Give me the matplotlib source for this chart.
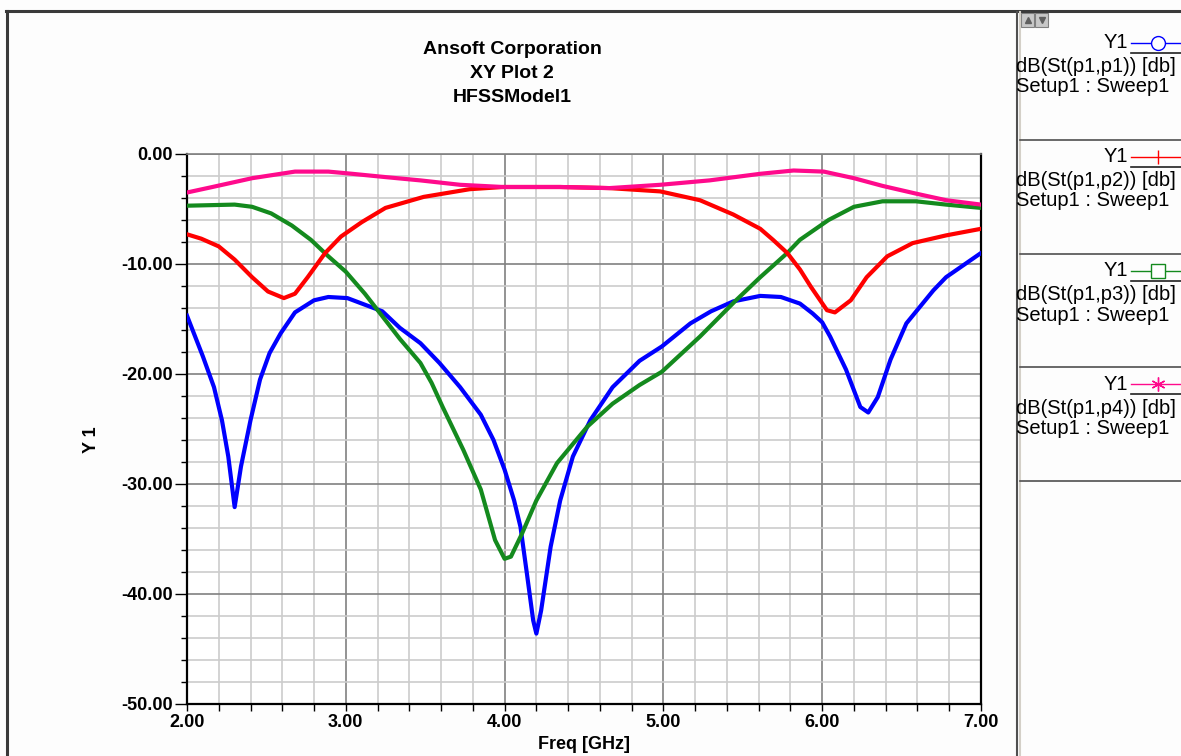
import numpy as np
import matplotlib
matplotlib.use("Agg")
import matplotlib.pyplot as plt
from matplotlib.lines import Line2D
from matplotlib.patches import Rectangle
from matplotlib.ticker import MultipleLocator, FormatStrFormatter

plt.rcParams['font.family'] = ['Liberation Sans', 'DejaVu Sans']

# S-parameter traces (freq in GHz, value in dB)
f_s11 = [2.00, 2.10, 2.17, 2.22, 2.26, 2.30, 2.34, 2.40, 2.46, 2.52, 2.59, 2.68, 2.80, 2.89,
         3.01, 3.12, 3.23, 3.34, 3.47, 3.59, 3.72, 3.85, 3.93, 4.00, 4.06, 4.10, 4.14, 4.18,
         4.20, 4.23, 4.29, 4.35, 4.43, 4.54, 4.68, 4.85, 4.99, 5.17, 5.30, 5.44, 5.61, 5.74,
         5.86, 5.94, 6.00, 6.05, 6.11, 6.15, 6.24, 6.29, 6.35, 6.43, 6.53, 6.70, 6.78, 6.85, 7.00]
s11 = [-14.7, -18.4, -21.2, -24.2, -27.5, -32.1, -28.4, -24.2, -20.5, -18.1, -16.3, -14.4, -13.3, -13.0,
       -13.1, -13.7, -14.3, -15.8, -17.2, -19.0, -21.2, -23.7, -26.0, -28.7, -31.5, -33.9, -38.1, -42.4,
       -43.6, -41.5, -35.7, -31.5, -27.5, -24.2, -21.2, -18.8, -17.5, -15.4, -14.3, -13.4, -12.9, -13.0,
       -13.6, -14.5, -15.3, -16.6, -18.4, -19.6, -23.0, -23.5, -22.1, -18.7, -15.4, -12.4, -11.2, -10.5, -9.0]

f_s12 = [2.00, 2.09, 2.20, 2.30, 2.41, 2.51, 2.61, 2.68, 2.76, 2.87, 2.97, 3.10, 3.25, 3.49,
         3.78, 3.99, 4.35, 4.66, 4.98, 5.23, 5.44, 5.61, 5.69, 5.78, 5.86, 5.93, 6.03, 6.08,
         6.18, 6.28, 6.41, 6.57, 6.78, 7.00]
s12 = [-7.3, -7.7, -8.4, -9.6, -11.2, -12.5, -13.1, -12.7, -11.2, -9.0, -7.5, -6.2, -4.9, -3.9,
       -3.2, -3.0, -3.0, -3.1, -3.4, -4.2, -5.5, -6.8, -7.8, -9.0, -10.5, -12.1, -14.2, -14.4,
       -13.3, -11.2, -9.3, -8.1, -7.4, -6.8]

f_s13 = [2.00, 2.30, 2.41, 2.53, 2.66, 2.78, 2.89, 3.00, 3.12, 3.19, 3.34, 3.47, 3.54, 3.61,
         3.74, 3.85, 3.94, 4.00, 4.04, 4.11, 4.20, 4.33, 4.52, 4.68, 4.85, 4.99, 5.23, 5.45,
         5.61, 5.78, 5.86, 5.99, 6.04, 6.20, 6.38, 6.59, 6.78, 7.00]
s13 = [-4.7, -4.6, -4.8, -5.4, -6.5, -7.8, -9.3, -10.7, -12.7, -14.0, -16.8, -19.0, -20.8, -23.0,
       -26.9, -30.5, -35.1, -36.8, -36.6, -34.5, -31.5, -28.1, -24.8, -22.7, -21.0, -19.8, -16.6, -13.4,
       -11.2, -9.0, -7.8, -6.5, -6.0, -4.8, -4.3, -4.3, -4.6, -4.9]

f_s14 = [2.00, 2.16, 2.41, 2.68, 2.89, 3.04, 3.25, 3.47, 3.72, 3.99, 4.35, 4.66, 4.98, 5.29,
         5.61, 5.82, 6.01, 6.20, 6.38, 6.59, 6.78, 7.00]
s14 = [-3.5, -3.0, -2.2, -1.6, -1.6, -1.8, -2.1, -2.4, -2.8, -3.0, -3.0, -3.1, -2.8, -2.4,
       -1.8, -1.5, -1.6, -2.2, -2.9, -3.6, -4.2, -4.6]

trace_names = ["dB(St(p1,p1)) [db]", "dB(St(p1,p2)) [db]", "dB(St(p1,p3)) [db]", "dB(St(p1,p4)) [db]"]
colors = ["#0000ff", "#ff0000", "#148a1e", "#ff0a8c"]
legend_markers = ["o", "|", "s", (6, 2, 0)]

W, H = 1181, 756


def fx(x):
    return x / W


def fy(y):
    return 1 - y / H


fig = plt.figure(figsize=(W / 100, H / 100), dpi=100)
fig.patch.set_facecolor("#fdfdfd")

ax = fig.add_axes([fx(187), fy(704), fx(981) - fx(187), fy(154) - fy(704)])
ax.set_xlim(2, 7)
ax.set_ylim(-50, 0)

# draw order: blue, green, red, pink on top
ax.plot(f_s11, s11, color=colors[0], lw=3.0, solid_joinstyle="round", zorder=3)
ax.plot(f_s13, s13, color=colors[2], lw=3.0, solid_joinstyle="round", zorder=4)
ax.plot(f_s12, s12, color=colors[1], lw=3.0, solid_joinstyle="round", zorder=5)
ax.plot(f_s14, s14, color=colors[3], lw=3.0, solid_joinstyle="round", zorder=6)

ax.xaxis.set_major_locator(MultipleLocator(1))
ax.xaxis.set_minor_locator(MultipleLocator(0.2))
ax.yaxis.set_major_locator(MultipleLocator(10))
ax.yaxis.set_minor_locator(MultipleLocator(2))
ax.xaxis.set_major_formatter(FormatStrFormatter("%.2f"))
ax.yaxis.set_major_formatter(FormatStrFormatter("%.2f"))

ax.grid(which="minor", color="#cccccc", lw=1.2)
ax.grid(which="major", color="#808080", lw=1.2)
ax.set_axisbelow(True)

ax.tick_params(axis="y", which="major", length=9, width=1, direction="out", pad=1)
ax.tick_params(axis="y", which="minor", length=4, width=1, direction="out")
ax.tick_params(axis="x", which="major", length=5, width=1, direction="out", pad=2)
ax.tick_params(axis="x", which="minor", length=5, width=1, direction="out")
for lab in ax.get_xticklabels() + ax.get_yticklabels():
    lab.set_fontweight("bold")
    lab.set_fontsize(13)

for side in ["left", "bottom", "right"]:
    ax.spines[side].set_color("black")
    ax.spines[side].set_linewidth(1.6)
ax.spines["top"].set_color("#808080")
ax.spines["top"].set_linewidth(1.2)

ax.set_xlabel("Freq [GHz]", fontsize=13, fontweight="bold", labelpad=4)
fig.text(fx(92), fy(440), "Y 1", rotation=90, fontsize=13, fontweight="bold",
         ha="center", va="center")

# title block
fig.text(fx(512), fy(50), "Ansoft Corporation", fontsize=14, fontweight="bold", ha="center", va="center")
fig.text(fx(512), fy(73), "XY Plot 2", fontsize=14, fontweight="bold", ha="center", va="center")
fig.text(fx(512), fy(97), "HFSSModel1", fontsize=14, fontweight="bold", ha="center", va="center")

# window frame
fig.add_artist(Line2D([fx(6), fx(W)], [fy(11), fy(11)], color="#3a3a3a", lw=2.2))
fig.add_artist(Line2D([fx(7), fx(7)], [fy(11), fy(H)], color="#3a3a3a", lw=2.2))
fig.add_artist(Line2D([fx(1017), fx(1017)], [fy(12), fy(H)], color="#505050", lw=1.5))
fig.add_artist(Line2D([fx(1020), fx(1020)], [fy(12), fy(H)], color="#d4d0c8", lw=1.5))

# scroll buttons
for bx, tri in [(1021, "^"), (1035, "v")]:
    fig.add_artist(Rectangle((fx(bx), fy(27)), fx(13), fy(13) - fy(27),
                             facecolor="#c8c8c8", edgecolor="#808080", lw=0.8))
    fig.add_artist(Line2D([fx(bx + 6.5)], [fy(20)], marker=tri, color="#606060",
                          markersize=4, linestyle="none"))

# legend panel
block_top = [26, 140, 254, 367]
for i, yb in enumerate(block_top):
    fig.text(fx(1128), fy(yb + 17), "Y1", fontsize=14.5, ha="right", va="center")
    fig.add_artist(Line2D([fx(1131), fx(W)], [fy(yb + 17), fy(yb + 17)], color=colors[i], lw=1.0))
    fig.add_artist(Line2D([fx(1158)], [fy(yb + 17)], linestyle="none",
                          marker=legend_markers[i], markersize=10,
                          markerfacecolor="white", markeredgecolor=colors[i], markeredgewidth=1.0))
    fig.add_artist(Line2D([fx(1131), fx(W)], [fy(yb + 27), fy(yb + 27)], color="#202020", lw=1.2))
    fig.text(fx(1016), fy(yb + 41), trace_names[i], fontsize=14.5, ha="left", va="center")
    fig.text(fx(1016), fy(yb + 61), "Setup1 : Sweep1", fontsize=14.5, ha="left", va="center")
for ys in [140, 254, 367, 481]:
    fig.add_artist(Line2D([fx(1020), fx(W)], [fy(ys), fy(ys)], color="#505050", lw=1.2))

fig.savefig("out.png", dpi=100, facecolor=fig.get_facecolor())
